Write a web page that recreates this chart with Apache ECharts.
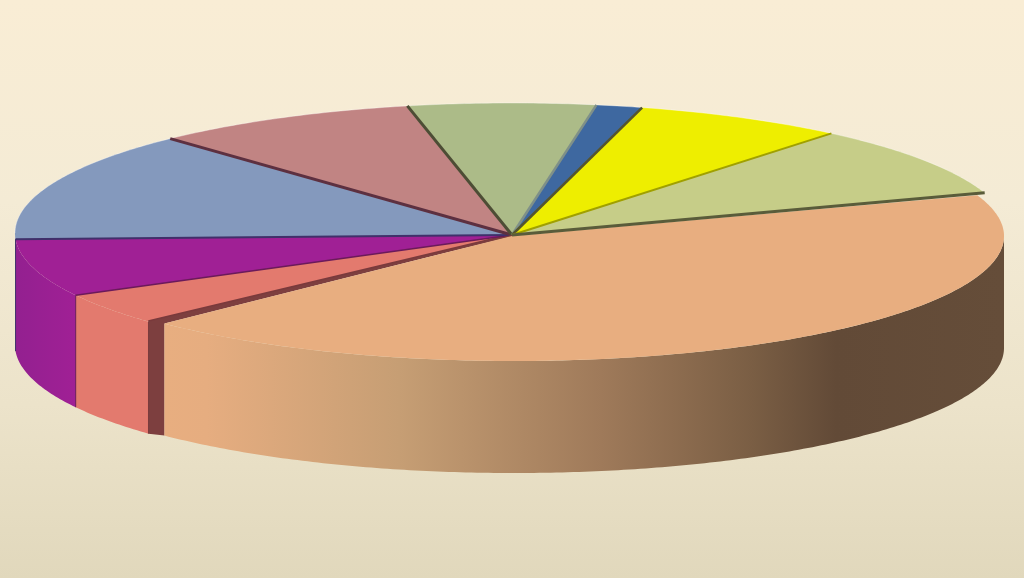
<!DOCTYPE html>
<html>
<head>
<meta charset="utf-8">
<style>html,body{margin:0;padding:0;background:#f3ead2}#c{width:1024px;height:578px}</style>
<script src="https://cdn.jsdelivr.net/npm/echarts@6/dist/echarts.min.js"></script>
</head>
<body>
<div id="c"></div>
<script>
// Data: clockwise from the large slice (percent shares)
const categories = ['A','B','C','D','E','F','G','H','I'];
const shares     = [43.1, 4.0, 7.2, 13.7, 8.7, 6.1, 1.5, 6.9, 8.9];

// Styles
const topColors  = ['#e8ae80','#e37a6e','#a02095','#8499bd','#c18483','#acbb88','#3e68a0','#eeee00','#c6cd88'];
const wallColors = ['#e8ae80','#e37a6e','#a02095','#8499bd','#c18483','#acbb88','#3e68a0','#eeee00','#c6cd88'];
const wallShade  = [null,null,'#932090',null,null,null,null,null,null];
const lineColors = ['#5a5c3a','#7a3a3c','#6b1a5a','#40306a','#5d3040','#4d4d35','#7f9088','#55552e','#a0a000'];
const lineWidths = [3, 3, 1.5, 2, 3, 3, 2.5, 2.5, 2];
const startAngle = -18;

// Geometry of the tilted pie
const rim   = {cx:512, cy:233, rx:497, ry:130};
const apex  = {x:512, y:235};
const big   = {cx:514, cy:236, rx:490, ry:125, endGap:1.5, startGap:1};
const depth = 112;
const wallStops = [[0,'#e8ae80'],[0.05,'#e6ad80'],[0.28,'#c69e74'],[0.52,'#9f7a5a'],[0.7,'#7a5e44'],[0.8,'#624a37'],[1,'#654d39']];

const total = shares.reduce((a,b)=>a+b,0);
let acc = startAngle;
const rows = shares.map((v,i)=>{
  const s = acc; acc += v/total*360;
  return {name:categories[i], value:[v, s, acc]};
});

function pt(e,deg){const t=deg*Math.PI/180;return [e.cx+e.rx*Math.cos(t), e.cy+e.ry*Math.sin(t)];}
function arc(e,a,b){const n=Math.max(2,Math.ceil(Math.abs(b-a)*1.5));const r=[];for(let i=0;i<=n;i++)r.push(pt(e,a+(b-a)*i/n));return r;}
function down(p){return [p[0],p[1]+depth];}

function renderItem(params, api){
  const i = params.dataIndex, a = api.value(1), b = api.value(2);
  const kids = [];
  const isBig = i===0;
  const e = isBig ? big : rim;
  const start = isBig ? a-big.startGap : a;
  const end = isBig ? b-big.endGap : b;
  // outer wall (only the front half shows)
  const wa = Math.max(start,0), wb = Math.min(end,180);
  if (wb>wa){
    const top = arc(e,wa,wb);
    let fill = wallColors[i];
    if (isBig) fill = {type:'linear',x:pt(e,end)[0],y:0,x2:e.cx+e.rx,y2:0,global:true,
        colorStops:wallStops.map(s=>({offset:s[0],color:s[1]}))};
    else if (wallShade[i]) fill = {type:'linear',x:pt(e,wb)[0],y:0,x2:pt(e,wa)[0],y2:0,global:true,
        colorStops:[{offset:0,color:wallShade[i]},{offset:1,color:wallColors[i]}]};
    kids.push({type:'polygon',z2:isBig?8:2,shape:{points:top.concat(top.slice().reverse().map(down))},
      style:{fill:fill}});
  }
  // top face
  const pts = [isBig?[big.cx-2,big.cy]:[apex.x,apex.y]].concat(arc(e,start,end));
  kids.push({type:'polygon',z2:isBig?9:3,shape:{points:pts},style:{fill:topColors[i]}});
  // light rim on the far side only
  const ra = Math.max(a,180), rb = Math.min(b,360-18);
  if(!isBig && rb>ra){
    kids.push({type:'polyline',z2:4,shape:{points:arc(e,ra,rb)},style:{fill:null,stroke:'rgba(255,255,255,0.35)',lineWidth:1}});
  }
  // separator at the slice's start
  const p = pt(rim,a);
  kids.push({type:'line',z2:isBig?10:5,shape:{x1:apex.x,y1:apex.y,x2:p[0],y2:p[1]},
    style:{stroke:lineColors[i],lineWidth:lineWidths[i]}});
  // cut face beside the pulled-out large slice, and wall divider
  if(isBig){
    const q = pt(rim,b), r = pt(big,end);
    kids.push({type:'polygon',z2:7,shape:{points:[[apex.x,apex.y],q,down(q),down(r),r,[big.cx-2,big.cy]]},
      style:{fill:'#7d3f3f'}});
  } else if (a>0 && a<180){
    const q = pt(rim,a);
    kids.push({type:'line',z2:5,shape:{x1:q[0],y1:q[1],x2:q[0],y2:q[1]+depth},
      style:{stroke:lineColors[i],lineWidth:1}});
  }
  return {type:'group',children:kids};
}

const chart = echarts.init(document.getElementById('c'),null,{renderer:'canvas',width:1024,height:578});
chart.setOption({
  animation:false,
  backgroundColor:{type:'linear',x:0,y:0,x2:0,y2:1,colorStops:[
    {offset:0,color:'#f9edd5'},{offset:0.35,color:'#f4ebd5'},{offset:0.7,color:'#ece3ca'},{offset:1,color:'#e1d8bc'}]},
  tooltip:{show:false},
  series:[{type:'custom',coordinateSystem:'none',renderItem:renderItem,data:rows,silent:true,clip:false}]
});
</script>
</body>
</html>
